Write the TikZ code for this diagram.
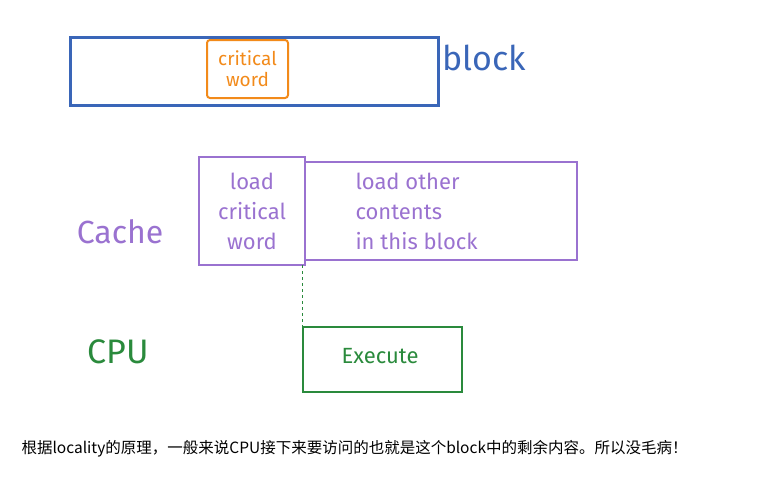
\documentclass[tikz,border=0pt]{standalone}
\usepackage{fontspec}
\setmainfont{Fira Sans}
\newfontfamily\cjk{Noto Sans CJK SC}
\definecolor{bl}{HTML}{3A66B8}
\definecolor{og}{HTML}{F28A1A}
\definecolor{pu}{HTML}{9A72D0}
\definecolor{gr}{HTML}{2A8A3C}
\begin{document}
\begin{tikzpicture}[x=1pt,y=-1pt,
  hbox/.style={draw,line width=2pt,inner sep=0pt}]
\useasboundingbox (0,0) rectangle (782,482);
\node[hbox,draw=bl,line width=3pt,minimum width=368,minimum height=68] (blk) at (254,71) {};
\node[hbox,draw=og,rounded corners=3pt,minimum width=81,minimum height=58,text=og,align=center,font=\fontsize{19}{21}\selectfont] (cw) at (247.5,69) {critical\\word};
\node[text=bl,font=\fontsize{34}{36}\selectfont] (bt) at (484,58) {block};
\node[hbox,draw=pu,minimum width=106,minimum height=108,text=pu,align=center,font=\fontsize{22}{30}\selectfont] (lc) at (252,211) {load\\critical\\word};
\node[hbox,draw=pu,minimum width=272,minimum height=98] (oc) at (441,211) {};
\node[text=pu,align=left,font=\fontsize{22}{30}\selectfont,anchor=west] (ot) at (352,211) {load other\\contents\\in this block};
\node[text=pu,font=\fontsize{32}{34}\selectfont] (ca) at (120,232) {Cache};
\node[hbox,draw=gr,minimum width=159,minimum height=65] (ex) at (382.5,359.5) {};
\node[text=gr,font=\fontsize{22}{24}\selectfont] (et) at (380,356) {Execute};
\node[text=gr,font=\fontsize{34}{36}\selectfont] (cpu) at (118,352) {CPU};
\draw[gr,dashed,line width=1pt] (302,265) -- (ex.north -| 302,0);
\node[anchor=west,font=\cjk\fontsize{15.5}{17}\selectfont] (note) at (18,449) {根据locality的原理，一般来说CPU接下来要访问的也就是这个block中的剩余内容。所以没毛病！};
\end{tikzpicture}
\end{document}
